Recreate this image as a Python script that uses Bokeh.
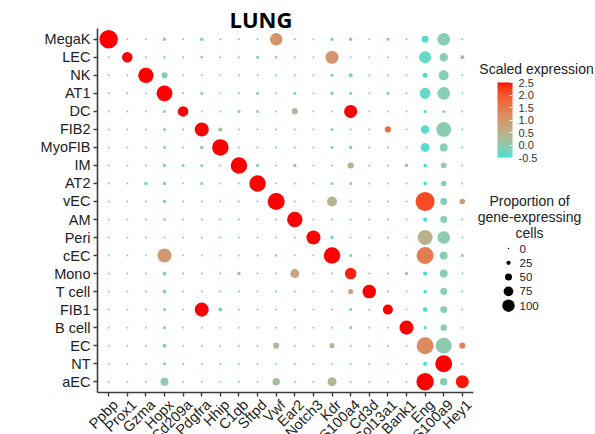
import numpy as np
from bokeh.plotting import figure
from bokeh.models import (ColumnDataSource, FactorRange, Range1d, LinearColorMapper,
                          ColorBar, FixedTicker, PrintfTickFormatter, AllLabels)
from bokeh.core.properties import value
from bokeh.embed import file_html
from bokeh.resources import INLINE

# ---------------- data ----------------
genes = ["Ppbp", "Prox1", "Gzma", "Hopx", "Cd209a", "Pdgfra", "Hhip", "C1qb", "Sftpd", "Vwf",
         "Ear2", "Notch3", "Kdr", "S100a4", "Cd3d", "Col13a1", "Bank1", "Eng", "S100a9", "Hey1"]
cell_types = ["MegaK", "LEC", "NK", "AT1", "DC", "FIB2", "MyoFIB", "IM", "AT2", "vEC",
              "AM", "Peri", "cEC", "Mono", "T cell", "FIB1", "B cell", "EC", "NT", "aEC"]

# proportion of gene-expressing cells (%), one row per cell type, columns follow `genes`
pct = [
    [97, 0, 0, 9, 0, 9, 0, 0, 0, 62, 0, 0, 9, 9, 0, 6, 0, 29, 62, 0],      # MegaK
    [0, 50, 0, 3, 0, 3, 0, 0, 6, 3, 0, 0, 65, 0, 0, 0, 0, 59, 38, 12],     # LEC
    [0, 0, 79, 24, 0, 0, 0, 0, 0, 0, 0, 0, 6, 12, 0, 0, 0, 18, 47, 0],     # NK
    [0, 0, 0, 82, 0, 6, 0, 0, 6, 0, 6, 0, 9, 6, 0, 6, 0, 53, 62, 0],       # AT1
    [0, 0, 0, 6, 50, 0, 0, 6, 6, 0, 24, 0, 0, 65, 0, 0, 0, 6, 6, 0],       # DC
    [0, 0, 0, 6, 0, 71, 12, 0, 0, 0, 0, 0, 6, 0, 0, 24, 0, 38, 76, 0],     # FIB2
    [0, 0, 0, 6, 0, 9, 85, 0, 0, 0, 0, 0, 6, 9, 0, 0, 0, 41, 35, 0],       # MyoFIB
    [0, 0, 0, 9, 6, 6, 0, 85, 6, 0, 9, 0, 0, 24, 0, 0, 9, 9, 21, 0],       # IM
    [0, 0, 9, 9, 0, 6, 0, 0, 85, 0, 0, 0, 6, 6, 0, 0, 0, 9, 21, 0],        # AT2
    [0, 0, 0, 9, 0, 0, 0, 0, 0, 88, 0, 0, 47, 0, 0, 0, 0, 100, 29, 21],    # vEC
    [0, 0, 0, 3, 0, 0, 0, 0, 0, 0, 79, 0, 0, 0, 0, 0, 0, 12, 29, 0],       # AM
    [0, 0, 0, 0, 0, 0, 0, 0, 0, 0, 0, 71, 9, 0, 0, 0, 0, 76, 62, 0],       # Peri
    [0, 0, 0, 71, 0, 0, 0, 0, 0, 3, 0, 0, 85, 6, 0, 0, 0, 88, 35, 6],      # cEC
    [0, 0, 0, 12, 0, 0, 0, 9, 0, 0, 41, 0, 0, 56, 0, 0, 6, 12, 35, 0],     # Mono
    [0, 0, 0, 12, 0, 0, 0, 0, 0, 0, 0, 0, 0, 18, 68, 0, 0, 9, 29, 0],      # T cell
    [0, 0, 0, 6, 0, 71, 12, 0, 0, 0, 0, 0, 0, 6, 0, 47, 0, 15, 29, 0],     # FIB1
    [0, 0, 0, 6, 0, 0, 0, 0, 0, 0, 0, 0, 0, 6, 0, 0, 71, 6, 26, 0],        # B cell
    [0, 0, 0, 12, 0, 0, 0, 0, 0, 24, 0, 0, 18, 0, 0, 0, 0, 88, 82, 24],    # EC
    [0, 0, 0, 6, 0, 0, 0, 0, 0, 0, 0, 0, 0, 0, 0, 0, 0, 12, 88, 0],        # NT
    [0, 0, 0, 35, 0, 0, 0, 0, 0, 32, 0, 0, 41, 0, 0, 0, 0, 91, 32, 65],    # aEC
]

# scaled expression, same layout as `pct`
expr = [
    [2.5, -0.25, -0.25, -0.15, -0.25, -0.15, -0.25, -0.25, -0.25, 1.05, -0.25, -0.25, -0.15, -0.15, -0.25, -0.15, -0.25, -0.4, -0.1, -0.25],
    [-0.25, 2.5, -0.25, -0.2, -0.25, -0.2, -0.25, -0.25, -0.15, -0.2, -0.25, -0.25, 1.0, -0.25, -0.25, -0.25, -0.25, -0.35, -0.1, 0.45],
    [-0.25, -0.25, 2.5, -0.1, -0.25, -0.25, -0.25, -0.25, -0.25, -0.25, -0.25, -0.25, -0.15, -0.3, -0.25, -0.25, -0.25, -0.45, -0.1, -0.25],
    [-0.25, -0.25, -0.25, 2.5, -0.25, -0.15, -0.25, -0.25, -0.15, -0.25, -0.15, -0.25, -0.15, -0.15, -0.25, -0.15, -0.25, -0.35, -0.1, -0.25],
    [-0.25, -0.25, -0.25, -0.15, 2.5, -0.25, -0.25, -0.15, -0.15, -0.25, 0.3, -0.25, -0.25, 2.5, -0.25, -0.25, -0.25, -0.5, -0.2, -0.25],
    [-0.25, -0.25, -0.25, -0.15, -0.25, 2.5, 0.2, -0.25, -0.25, -0.25, -0.25, -0.25, -0.15, -0.25, -0.25, 1.8, -0.25, -0.4, -0.05, -0.25],
    [-0.25, -0.25, -0.25, -0.15, -0.25, -0.15, 2.5, -0.25, -0.25, -0.25, -0.25, -0.25, -0.15, -0.15, -0.25, -0.25, -0.25, -0.4, -0.1, -0.25],
    [-0.25, -0.25, -0.25, -0.15, -0.15, -0.15, -0.25, 2.5, -0.15, -0.25, 0.2, -0.25, -0.25, 0.55, -0.25, -0.25, 0.5, -0.5, -0.1, -0.25],
    [-0.25, -0.25, -0.15, -0.15, -0.25, -0.15, -0.25, -0.25, 2.5, -0.25, -0.25, -0.25, -0.15, -0.15, -0.25, -0.25, -0.25, -0.5, -0.1, -0.25],
    [-0.25, -0.25, -0.25, -0.15, -0.25, -0.25, -0.25, -0.25, -0.25, 2.5, -0.25, -0.25, 0.45, -0.25, -0.25, -0.25, -0.25, 2.1, -0.1, 0.9],
    [-0.25, -0.25, -0.25, -0.2, -0.25, -0.25, -0.25, -0.25, -0.25, -0.25, 2.5, -0.25, -0.25, -0.25, -0.25, -0.25, -0.25, -0.5, -0.1, -0.25],
    [-0.25, -0.25, -0.25, -0.25, -0.25, -0.25, -0.25, -0.25, -0.25, -0.25, -0.25, 2.5, -0.2, -0.25, -0.25, -0.25, -0.25, 0.5, -0.05, -0.25],
    [-0.25, -0.25, -0.25, 0.95, -0.25, -0.25, -0.25, -0.25, -0.25, -0.2, -0.25, -0.25, 2.5, -0.15, -0.25, -0.25, -0.25, 1.45, -0.1, -0.15],
    [-0.25, -0.25, -0.25, -0.2, -0.25, -0.25, -0.25, 0.2, -0.25, -0.25, 0.7, -0.25, -0.25, 2.4, -0.25, -0.25, 0.8, -0.5, -0.1, -0.25],
    [-0.25, -0.25, -0.25, -0.2, -0.25, -0.25, -0.25, -0.25, -0.25, -0.25, -0.25, -0.25, -0.25, 0.85, 2.5, -0.25, -0.25, -0.5, -0.1, -0.25],
    [-0.25, -0.25, -0.25, -0.15, -0.25, 2.5, -0.05, -0.25, -0.25, -0.25, -0.25, -0.25, -0.25, -0.15, -0.25, 2.5, -0.25, -0.5, -0.1, -0.25],
    [-0.25, -0.25, -0.25, -0.15, -0.25, -0.25, -0.25, -0.25, -0.25, -0.25, -0.25, -0.25, -0.25, -0.15, -0.25, -0.25, 2.5, -0.5, -0.1, -0.25],
    [-0.25, -0.25, -0.25, -0.2, -0.25, -0.25, -0.25, -0.25, -0.25, 0.25, -0.25, -0.25, 0.3, -0.25, -0.25, -0.25, -0.25, 1.2, -0.05, 1.35],
    [-0.25, -0.25, -0.25, -0.15, -0.25, -0.25, -0.25, -0.25, -0.25, -0.25, -0.25, -0.25, -0.25, -0.25, -0.25, -0.25, -0.25, -0.5, 2.5, -0.25],
    [-0.25, -0.25, -0.25, 0.0, -0.25, -0.25, -0.25, -0.25, -0.25, 0.25, -0.25, -0.25, 0.4, -0.25, -0.25, -0.25, -0.25, 2.5, -0.1, 2.45],
]

size_legend_values = [0, 25, 50, 75, 100]
color_ticks = [-0.5, 0.0, 0.5, 1.0, 1.5, 2.0, 2.5]
title_text = "LUNG"
color_title = "Scaled expression"
size_title_lines = ["Proportion of", "gene-expressing", "cells"]

# ---------------- palette: turquoise -> red, interpolated in CIE Lab ----------------
_M = np.array([[0.4124564, 0.3575761, 0.1804375],
               [0.2126729, 0.7151522, 0.0721750],
               [0.0193339, 0.1191920, 0.9503041]])
_Minv = np.linalg.inv(_M)
_WHITE = np.array([0.95047, 1.0, 1.08883])


def _rgb_to_lab(rgb):
    c = np.asarray(rgb, dtype=float) / 255.0
    lin = np.where(c <= 0.04045, c / 12.92, ((c + 0.055) / 1.055) ** 2.4)
    xyz = (_M @ lin) / _WHITE
    d = 6 / 29
    f = np.where(xyz > d ** 3, np.cbrt(xyz), xyz / (3 * d ** 2) + 4 / 29)
    return np.array([116 * f[1] - 16, 500 * (f[0] - f[1]), 200 * (f[1] - f[2])])


def _lab_to_hex(lab):
    L, a, b = lab
    fy = (L + 16) / 116
    f = np.array([fy + a / 500, fy, fy - b / 200])
    d = 6 / 29
    xyz = np.where(f > d, f ** 3, 3 * d ** 2 * (f - 4 / 29)) * _WHITE
    lin = np.clip(_Minv @ xyz, 0, 1)
    srgb = np.where(lin <= 0.0031308, 12.92 * lin, 1.055 * lin ** (1 / 2.4) - 0.055)
    r, g, bb = np.round(np.clip(srgb, 0, 1) * 255).astype(int)
    return "#%02x%02x%02x" % (r, g, bb)


_lo = _rgb_to_lab([64, 224, 208])   # turquoise
_hi = _rgb_to_lab([255, 0, 0])      # red
palette = [_lab_to_hex(_lo + (_hi - _lo) * t) for t in np.linspace(0, 1, 256)]
mapper = LinearColorMapper(palette=palette, low=-0.5, high=2.5)

FONT = "Liberation Sans"
TXT = "#222222"
AX = "#3c3c3c"

# layout (pixels): the dot grid spans FL..FR x FT..FB; the frame continues right to hold the legend
FL, FR, FT, FB = 97, 473, 28, 392
W, H = 595, 434
PAD = 0.1
NX, NY = len(genes), len(cell_types)
UX = (NX + 2 * PAD) / (FR - FL)          # x data units per pixel
X0 = -0.5 - PAD                           # data x at the left edge of the frame


def sx(px):
    """page pixel -> data x"""
    return X0 + (px - FL) * UX


def sy(py):
    """page pixel -> synthetic y coordinate of the categorical range"""
    return -PAD + (FB - py) * (NY + 2 * PAD) / (FB - FT)


gene_pos = {g: i for i, g in enumerate(genes)}

p = figure(width=W, height=H,
           x_range=Range1d(X0, sx(W)),
           y_range=FactorRange(factors=list(reversed(cell_types)), range_padding=PAD,
                               range_padding_units="absolute"),
           output_backend="svg", toolbar_location=None,
           min_border_left=FL, min_border_right=0, min_border_top=FT,
           min_border_bottom=H - FB)
p.background_fill_color = "white"
p.border_fill_color = "white"
p.outline_line_color = None
p.xgrid.visible = False
p.ygrid.visible = False

gx, gy, gp, ge = [], [], [], []
for i, ct in enumerate(cell_types):
    for j, g in enumerate(genes):
        gx.append(gene_pos[g])
        gy.append(ct)
        gp.append(pct[i][j])
        ge.append(expr[i][j])
dot_size = [2 + 17 * v / 100 for v in gp]
src = ColumnDataSource(dict(gene=gx, cell=gy, pct=gp, expr=ge, size=dot_size))
p.scatter("gene", "cell", size="size", source=src,
          fill_color={"field": "expr", "transform": mapper}, line_color=None)

p.xaxis.ticker = FixedTicker(ticks=list(range(NX)))
p.xaxis.major_label_overrides = {i: g for i, g in enumerate(genes)}
p.xaxis.bounds = (X0, NX - 1 + 0.5 + PAD)
for ax in (p.xaxis[0], p.yaxis[0]):
    ax.axis_line_color = AX
    ax.axis_line_width = 1.6
    ax.major_tick_line_color = AX
    ax.major_tick_line_width = 1.4
    ax.major_tick_out = 4
    ax.major_tick_in = 0
    ax.minor_tick_line_color = None
    ax.minor_tick_out = 0
p.yaxis.major_label_text_font = FONT
p.yaxis.major_label_text_font_size = "14.5px"
p.yaxis.major_label_text_color = TXT
p.yaxis.major_label_standoff = 3
p.xaxis.major_label_text_color = None   # gene names are drawn rotated below

# rotated gene labels under the x axis
lab_src = ColumnDataSource(dict(gene=[gene_pos[g] for g in genes],
                                cell=[cell_types[-1]] * len(genes), name=genes))
p.text("gene", "cell", text="name", source=lab_src, angle=45, angle_units="deg",
       text_align="right", text_baseline="top", y_offset=15, x_offset=1,
       text_font=value(FONT), text_font_size=value("14.5px"), text_color=TXT,
       level="annotation")

# title
p.text([sx(260.5)], [sy(19)], text=[title_text], text_align="center", text_baseline="middle",
       text_font=value("Open Sans"), text_font_style="bold", text_font_size=value("22px"),
       text_color="#000000", level="annotation")

# ---------------- legends ----------------
p.text([sx(536)], [sy(69)], text=[color_title], text_align="center", text_baseline="middle",
       text_font=value(FONT), text_font_size=value("14px"), text_color=TXT,
       level="annotation")

cb = ColorBar(color_mapper=mapper, ticker=FixedTicker(ticks=color_ticks),
              formatter=PrintfTickFormatter(format="%.1f"),
              major_label_policy=AllLabels(),
              width=15, height=75, location=(497 - FL, FB - 157), padding=0,
              major_label_text_font=FONT, major_label_text_font_size="11px",
              major_label_text_color="#333333", label_standoff=6,
              major_tick_in=3, major_tick_out=0, major_tick_line_color="white",
              bar_line_color=None, background_fill_alpha=0, border_line_color=None)
p.add_layout(cb)

ty = [sy(200 + 16 * k) for k in range(len(size_title_lines))]
p.text([sx(529)] * len(size_title_lines), ty, text=size_title_lines, text_align="center",
       text_baseline="middle", text_font=value(FONT), text_font_size=value("14px"),
       text_color=TXT, level="annotation")

ly = [sy(248 + 14.3 * k) for k in range(len(size_legend_values))]
lsize = [1.5 + 11 * v / 100 for v in size_legend_values]
lsrc = ColumnDataSource(dict(x=[sx(508)] * len(ly), y=ly, s=lsize,
                             lab=[str(v) for v in size_legend_values],
                             lx=[sx(519)] * len(ly)))
p.scatter("x", "y", size="s", source=lsrc, fill_color="black", line_color=None)
p.text("lx", "y", text="lab", source=lsrc, text_align="left", text_baseline="middle",
       text_font=value(FONT), text_font_size=value("11.5px"), text_color=TXT,
       level="annotation")

open("out.html", "w").write(file_html(p, INLINE))
